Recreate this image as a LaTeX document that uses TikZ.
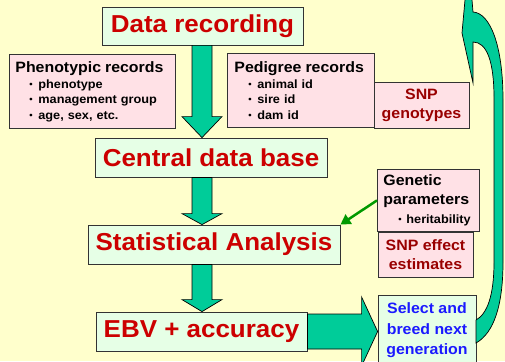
\documentclass[tikz,border=0pt]{standalone}
\usepackage{fontspec}
\setmainfont{Liberation Sans}[FakeStretch=1.06]
\usetikzlibrary{arrows.meta,calc}

\definecolor{paper}{HTML}{FFFFCC}
\definecolor{mint}{HTML}{E6FFE6}
\definecolor{rose}{HTML}{FFE1E6}
\definecolor{flowgreen}{HTML}{00CC99}
\definecolor{linkgreen}{HTML}{009900}
\definecolor{steptext}{HTML}{CC0000}
\definecolor{snptext}{HTML}{990000}
\definecolor{seltext}{HTML}{1A1AFF}
\definecolor{edge}{HTML}{333333}

\newcommand\fs[2]{\fontsize{#1}{#2}\selectfont}
\newcommand\bul{\hspace*{14pt}\makebox[9pt][l]{\raisebox{0.8pt}{\fs{9}{9}•}}}

% vertical block arrow from node #1 down to node #2, head length #3
\newcommand\flowdown[3]{%
  \draw[blockarrow] let \p1=(#1.south), \p2=(#2.north) in
    (192pt,\y1) -- (192pt,\y2+#3) -- (182pt,\y2+#3) -- (202pt,\y2)
    -- (222pt,\y2+#3) -- (212pt,\y2+#3) -- (212pt,\y1) -- cycle;}

\tikzset{
  stepbox/.style={draw=edge, line width=0.8pt, fill=mint, text=steptext,
    font=\bfseries\fs{24.5}{28}, inner sep=0pt},
  infobox/.style={draw=edge, line width=0.8pt, fill=rose,
    font=\bfseries\fs{12}{15.5}, inner sep=0pt},
  blockarrow/.style={draw=black, line width=0.7pt, fill=flowgreen},
}

\begin{document}
\begin{tikzpicture}[x=1pt,y=-1pt]
\useasboundingbox (0,0) rectangle (505,361);
\clip (0,0) rectangle (505,361);
\fill[paper] (0,0) rectangle (505,361);

% main processing steps
\node[stepbox, minimum width=201pt, minimum height=38pt] (rec) at (202.5,26) {Data recording};
\node[stepbox, minimum width=232pt, minimum height=39pt] (db) at (211,157.5) {Central data base};
\node[stepbox, minimum width=252pt, minimum height=39pt] (stat) at (214,244.5) {Statistical Analysis};
\node[stepbox, minimum width=211pt, minimum height=39pt] (ebv) at (201.5,331.5) {EBV + accuracy};

% input records
\node[infobox, anchor=north west, text width=154pt, inner xsep=6pt,
      minimum height=74pt, align=left] (pheno) at (9,54)
  {{\fs{15}{16}Phenotypic records}\\[0.5pt]
   \bul phenotype\\ \bul management group\\ \bul age, sex, etc.};
\node[infobox, anchor=north west, text width=133pt, inner xsep=7pt,
      minimum height=74pt, align=left] (ped) at (227,53)
  {{\fs{15}{16}Pedigree records}\\[0.5pt]
   \bul animal id\\ \bul sire id\\ \bul dam id};
\node[infobox, minimum width=95pt, minimum height=46pt, align=center,
      text=snptext, font=\bfseries\fs{15}{19}] (snpg) at (421.5,105) {SNP\\genotypes};

% parameters
\node[infobox, anchor=north west, text width=90pt, inner xsep=6pt,
      minimum height=62pt, align=left, font=\bfseries\fs{15}{19}] (gen) at (377,169)
  {Genetic\\parameters\\
   {\fs{12}{12}\hspace*{15pt}\makebox[8pt][l]{\raisebox{0.8pt}{\fs{9}{9}•}}heritability}};
\node[infobox, minimum width=95pt, minimum height=45pt, align=center,
      text=snptext, font=\bfseries\fs{15}{19}] (snpe) at (425.5,254.5) {SNP effect\\estimates};

% selection
\node[draw=edge, line width=0.8pt, fill=mint, anchor=north, minimum width=98pt,
      minimum height=70pt, inner sep=0pt, align=center, text=seltext,
      font=\bfseries\fs{15}{20.5}] (sel) at (427,295) {Select and\\breed next\\generation};

% flow arrows
\flowdown{rec}{db}{21pt}
\flowdown{db}{stat}{11pt}
\flowdown{stat}{ebv}{12pt}

\draw[blockarrow] let \p1=(ebv.east), \p2=(sel.west) in
  (\x1,\y1+17.5pt) -- (\x2-16pt,\y1+17.5pt) -- (\x2-16pt,\y1+34.5pt) -- (\x2,\y1)
  -- (\x2-16pt,\y1-34.5pt) -- (\x2-16pt,\y1-17.5pt) -- (\x1,\y1-17.5pt) -- cycle;

\draw[linkgreen, line width=2.5pt, -{Triangle[length=10pt,width=11pt]}] (gen.west) -- (stat.north east);

% loop back to data recording
\draw[blockarrow] (476,343) .. controls (494,333) and (503,305) .. (503,262)
  -- (503,100) .. controls (503,45) and (490,13) .. (473,12)
  -- (472,0) -- (469,-10) -- (465,0) -- (462,33) -- (473,83) -- (473,42)
  .. controls (487,42) and (494,62) .. (494,98)
  -- (494,262) .. controls (494,296) and (487,314) .. (476,320) -- cycle;
\end{tikzpicture}
\end{document}
